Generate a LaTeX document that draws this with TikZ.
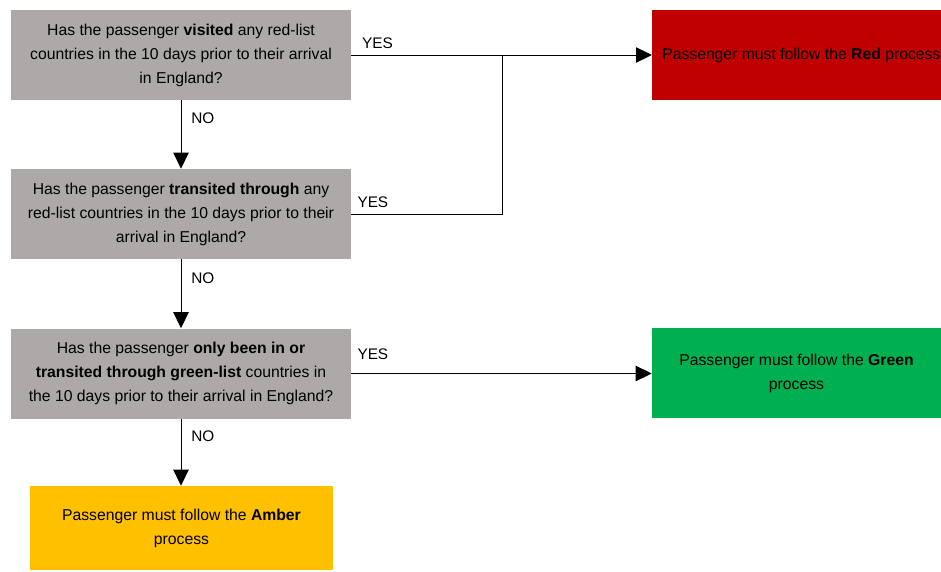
\documentclass[tikz,border=0pt]{standalone}
\usepackage{fontspec}
\setmainfont{Liberation Sans}
\usetikzlibrary{arrows.meta,positioning}

\definecolor{qgrey}{RGB}{173,169,168}
\definecolor{redproc}{RGB}{192,0,0}
\definecolor{greenproc}{RGB}{0,176,80}
\definecolor{amberproc}{RGB}{255,192,0}

\begin{document}
\begin{tikzpicture}[
            x=0.75pt, y=-0.75pt,
            question/.style={
                fill=qgrey,
                minimum width=255pt,
                minimum height=67.5pt,
                inner sep=0pt,
                align=center,
                font=\fontsize{11.8}{18}\selectfont
            },
            outcome/.style={
                minimum height=67.5pt,
                inner sep=0pt,
                align=center,
                font=\fontsize{11.8}{18}\selectfont
            },
            flow/.style={
                -{Triangle[length=12pt,width=11.5pt]},
                line width=0.75pt
            },
            link/.style={line width=0.75pt},
            lbl/.style={
                inner sep=0pt,
                font=\fontsize{11.5}{12}\selectfont
            }
        ]

            \useasboundingbox (0,0) rectangle (941,571);

            % --- Questions ---
            \node[question] (q1) at (181,55)
                {Has the passenger \textbf{visited} any red-list\\
                 countries in the 10 days prior to their arrival\\
                 in England?};
            \node[question] (q2) at (181,214)
                {Has the passenger \textbf{transited through} any\\
                 red-list countries in the 10 days prior to their\\
                 arrival in England?};
            \node[question] (q3) at (181,373.5)
                {Has the passenger \textbf{only been in or}\\
                 \textbf{transited through green-list} countries in\\
                 the 10 days prior to their arrival in England?};

            % --- Outcomes ---
            \node[outcome, fill=redproc, anchor=west, inner xsep=7.5pt] (red) at (652,55)
                {Passenger must follow the \textbf{Red} process};
            \node[outcome, fill=greenproc, minimum width=216.75pt] (green) at (796.5,373)
                {Passenger must follow the \textbf{Green}\\process};
            \node[outcome, fill=amberproc, minimum width=227.25pt, minimum height=63pt] (amber) at (181.5,528)
                {Passenger must follow the \textbf{Amber}\\process};

            \coordinate (jn) at (502,55);

            % --- NO branches ---
            \draw[flow] (q1.south) -- (q2.north);
            \draw[flow] (q2.south) -- (q3.north);
            \draw[flow] (q3.south) -- (q3.south |- amber.north);

            % --- YES branches ---
            \draw[flow] (q1.east) -- (red.west);
            \draw[link] (q2.east) -| (jn);
            \draw[flow] (q3.east) -- (q3.east -| green.west);

            % --- Labels ---
            \node[lbl, above right=4.5pt and 8pt of q1.east] (yes1) {YES};
            \node[lbl, above right=4.5pt and 4.5pt of q2.east] (yes2) {YES};
            \node[lbl, above right=10pt and 4.5pt of q3.east] (yes3) {YES};
            \node[lbl, below right=9pt and 7.5pt of q1.south] (no1) {NO};
            \node[lbl, below right=10pt and 7.5pt of q2.south] (no2) {NO};
            \node[lbl, below right=8.5pt and 7.5pt of q3.south] (no3) {NO};
        \end{tikzpicture}
\end{document}
